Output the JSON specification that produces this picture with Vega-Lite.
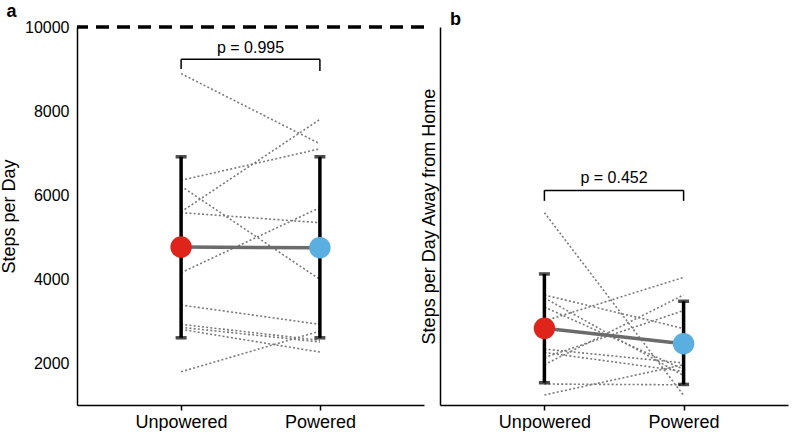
{
  "$schema": "https://vega.github.io/schema/vega-lite/v6.json",
  "padding": {"left": 0, "top": 3, "right": 2, "bottom": 0},
  "spacing": -6,
  "config": {
    "view": {"stroke": null},
    "font": "Liberation Sans",
    "axis": {"grid": false, "domainColor": "black", "domainWidth": 1.5, "tickColor": "black", "labelColor": "black", "titleColor": "black", "titleFontWeight": "normal"}
  },
  "datasets": {
    "pairsA": [
      {"id": 1, "cond": "Unpowered", "steps": 8890}, {"id": 1, "cond": "Powered", "steps": 7220},
      {"id": 2, "cond": "Unpowered", "steps": 6350}, {"id": 2, "cond": "Powered", "steps": 7100},
      {"id": 3, "cond": "Unpowered", "steps": 6210}, {"id": 3, "cond": "Powered", "steps": 3990},
      {"id": 4, "cond": "Unpowered", "steps": 5600}, {"id": 4, "cond": "Powered", "steps": 7800},
      {"id": 5, "cond": "Unpowered", "steps": 5580}, {"id": 5, "cond": "Powered", "steps": 5340},
      {"id": 6, "cond": "Unpowered", "steps": 4150}, {"id": 6, "cond": "Powered", "steps": 5700},
      {"id": 7, "cond": "Unpowered", "steps": 3380}, {"id": 7, "cond": "Powered", "steps": 2920},
      {"id": 8, "cond": "Unpowered", "steps": 2920}, {"id": 8, "cond": "Powered", "steps": 2540},
      {"id": 9, "cond": "Unpowered", "steps": 2850}, {"id": 9, "cond": "Powered", "steps": 2500},
      {"id": 10, "cond": "Unpowered", "steps": 2800}, {"id": 10, "cond": "Powered", "steps": 2260},
      {"id": 11, "cond": "Unpowered", "steps": 1790}, {"id": 11, "cond": "Powered", "steps": 2760}
    ],
    "meansA": [
      {"cond": "Unpowered", "mean": 4760, "lo": 2600, "hi": 6910},
      {"cond": "Powered", "mean": 4745, "lo": 2600, "hi": 6910}
    ],
    "bracketA": [
      {"cond": "Unpowered", "c2": "Powered", "top": 9230, "bot": 9000},
      {"cond": "Powered", "c2": "Powered", "top": 9230, "bot": 8950}
    ],
    "pairsB": [
      {"id": 1, "cond": "Unpowered", "steps": 5580}, {"id": 1, "cond": "Powered", "steps": 1230},
      {"id": 2, "cond": "Unpowered", "steps": 3620}, {"id": 2, "cond": "Powered", "steps": 2820},
      {"id": 3, "cond": "Unpowered", "steps": 3550}, {"id": 3, "cond": "Powered", "steps": 1700},
      {"id": 4, "cond": "Unpowered", "steps": 3330}, {"id": 4, "cond": "Powered", "steps": 1850},
      {"id": 5, "cond": "Unpowered", "steps": 3000}, {"id": 5, "cond": "Powered", "steps": 4040},
      {"id": 6, "cond": "Unpowered", "steps": 2330}, {"id": 6, "cond": "Powered", "steps": 2000},
      {"id": 7, "cond": "Unpowered", "steps": 2250}, {"id": 7, "cond": "Powered", "steps": 1800},
      {"id": 8, "cond": "Unpowered", "steps": 2130}, {"id": 8, "cond": "Powered", "steps": 3250},
      {"id": 9, "cond": "Unpowered", "steps": 1960}, {"id": 9, "cond": "Powered", "steps": 3620},
      {"id": 10, "cond": "Unpowered", "steps": 1500}, {"id": 10, "cond": "Powered", "steps": 1480},
      {"id": 11, "cond": "Unpowered", "steps": 1240}, {"id": 11, "cond": "Powered", "steps": 1960}
    ],
    "meansB": [
      {"cond": "Unpowered", "mean": 2826, "lo": 1530, "hi": 4120},
      {"cond": "Powered", "mean": 2460, "lo": 1490, "hi": 3470}
    ],
    "bracketB": [
      {"cond": "Unpowered", "c2": "Powered", "top": 6110, "bot": 5860},
      {"cond": "Powered", "c2": "Powered", "top": 6110, "bot": 5860}
    ]
  },
  "hconcat": [
    {
      "width": 347,
      "height": 378,
      "title": {"text": "a", "anchor": "start", "frame": "bounds", "fontSize": 18, "fontWeight": "bold", "offset": -2, "dx": 6},
      "layer": [
        {
          "data": {"name": "pairsA"},
          "mark": {"type": "line", "color": "#7a7a7a", "strokeWidth": 1.6, "strokeDash": [2, 2.2]},
          "encoding": {
            "x": {"field": "cond", "type": "nominal", "sort": null, "scale": {"type": "point", "domain": ["Unpowered", "Powered"], "padding": 0.75}, "axis": {"title": null, "labelAngle": 0, "labelFontSize": 18, "tickSize": 5, "tickWidth": 1.5, "labelPadding": 3}},
            "y": {"field": "steps", "type": "quantitative", "scale": {"domain": [1000, 10000], "nice": false, "zero": false}, "axis": {"values": [2000, 4000, 6000, 8000, 10000], "format": "d", "ticks": false, "labelPadding": 8, "labelFontSize": 16, "title": "Steps per Day", "titleFontSize": 18, "titlePadding": 6}},
            "detail": {"field": "id", "type": "nominal"}
          }
        },
        {
          "data": {"values": [{"ref": 10000}]},
          "mark": {"type": "rule", "color": "black", "strokeWidth": 3.5, "strokeDash": [13, 8]},
          "encoding": {"y": {"field": "ref", "type": "quantitative"}}
        },
        {
          "data": {"name": "meansA"},
          "mark": {"type": "rule", "color": "black", "strokeWidth": 3.5},
          "encoding": {
            "x": {"field": "cond", "type": "nominal", "sort": null},
            "y": {"field": "lo", "type": "quantitative"},
            "y2": {"field": "hi"}
          }
        },
        {
          "data": {"name": "meansA"},
          "mark": {"type": "tick", "color": "black", "thickness": 3.5, "size": 11},
          "encoding": {
            "x": {"field": "cond", "type": "nominal", "sort": null},
            "y": {"field": "lo", "type": "quantitative"}
          }
        },
        {
          "data": {"name": "meansA"},
          "mark": {"type": "tick", "color": "black", "thickness": 3.5, "size": 11},
          "encoding": {
            "x": {"field": "cond", "type": "nominal", "sort": null},
            "y": {"field": "hi", "type": "quantitative"}
          }
        },
        {
          "data": {"name": "meansA"},
          "mark": {"type": "line", "color": "#6b6b6b", "strokeWidth": 3.5},
          "encoding": {
            "x": {"field": "cond", "type": "nominal", "sort": null},
            "y": {"field": "mean", "type": "quantitative"}
          }
        },
        {
          "data": {"name": "meansA"},
          "mark": {"type": "circle", "size": 460, "opacity": 1},
          "encoding": {
            "x": {"field": "cond", "type": "nominal", "sort": null},
            "y": {"field": "mean", "type": "quantitative"},
            "color": {"field": "cond", "type": "nominal", "scale": {"domain": ["Unpowered", "Powered"], "range": ["#df251b", "#5aafe0"]}, "legend": null}
          }
        },
        {
          "data": {"name": "bracketA"},
          "mark": {"type": "rule", "color": "black", "strokeWidth": 1.5},
          "encoding": {
            "x": {"field": "cond", "type": "nominal", "sort": null},
            "y": {"field": "top", "type": "quantitative"},
            "y2": {"field": "bot"}
          }
        },
        {
          "data": {"values": [{"cond": "Unpowered", "c2": "Powered", "top": 9230}]},
          "mark": {"type": "rule", "color": "black", "strokeWidth": 1.5},
          "encoding": {
            "x": {"field": "cond", "type": "nominal", "sort": null},
            "x2": {"field": "c2"},
            "y": {"field": "top", "type": "quantitative"}
          }
        },
        {
          "data": {"values": [{"label": "p = 0.995", "ty": 9510}]},
          "mark": {"type": "text", "fontSize": 16, "color": "black", "baseline": "middle", "align": "center"},
          "encoding": {
            "y": {"field": "ty", "type": "quantitative"},
            "text": {"field": "label"}
          }
        }
      ]
    },
    {
      "width": 348,
      "height": 378,
      "title": {"text": "b", "anchor": "start", "frame": "group", "fontSize": 18, "fontWeight": "bold", "offset": -2, "dx": 10},
      "layer": [
        {
          "data": {"name": "pairsB"},
          "mark": {"type": "line", "color": "#7a7a7a", "strokeWidth": 1.6, "strokeDash": [2, 2.2]},
          "encoding": {
            "x": {"field": "cond", "type": "nominal", "sort": null, "scale": {"type": "point", "domain": ["Unpowered", "Powered"], "padding": 0.75}, "axis": {"title": null, "labelAngle": 0, "labelFontSize": 18, "tickSize": 5, "tickWidth": 1.5, "labelPadding": 3}},
            "y": {"field": "steps", "type": "quantitative", "scale": {"domain": [1000, 10000], "nice": false, "zero": false}, "axis": {"labels": false, "ticks": false, "title": "Steps per Day Away from Home", "titleFontSize": 18, "titlePadding": 2}},
            "detail": {"field": "id", "type": "nominal"}
          }
        },
        {
          "data": {"name": "meansB"},
          "mark": {"type": "rule", "color": "black", "strokeWidth": 3.5},
          "encoding": {
            "x": {"field": "cond", "type": "nominal", "sort": null},
            "y": {"field": "lo", "type": "quantitative"},
            "y2": {"field": "hi"}
          }
        },
        {
          "data": {"name": "meansB"},
          "mark": {"type": "tick", "color": "black", "thickness": 3.5, "size": 11},
          "encoding": {
            "x": {"field": "cond", "type": "nominal", "sort": null},
            "y": {"field": "lo", "type": "quantitative"}
          }
        },
        {
          "data": {"name": "meansB"},
          "mark": {"type": "tick", "color": "black", "thickness": 3.5, "size": 11},
          "encoding": {
            "x": {"field": "cond", "type": "nominal", "sort": null},
            "y": {"field": "hi", "type": "quantitative"}
          }
        },
        {
          "data": {"name": "meansB"},
          "mark": {"type": "line", "color": "#6b6b6b", "strokeWidth": 3.5},
          "encoding": {
            "x": {"field": "cond", "type": "nominal", "sort": null},
            "y": {"field": "mean", "type": "quantitative"}
          }
        },
        {
          "data": {"name": "meansB"},
          "mark": {"type": "circle", "size": 460, "opacity": 1},
          "encoding": {
            "x": {"field": "cond", "type": "nominal", "sort": null},
            "y": {"field": "mean", "type": "quantitative"},
            "color": {"field": "cond", "type": "nominal", "scale": {"domain": ["Unpowered", "Powered"], "range": ["#df251b", "#5aafe0"]}, "legend": null}
          }
        },
        {
          "data": {"name": "bracketB"},
          "mark": {"type": "rule", "color": "black", "strokeWidth": 1.5},
          "encoding": {
            "x": {"field": "cond", "type": "nominal", "sort": null},
            "y": {"field": "top", "type": "quantitative"},
            "y2": {"field": "bot"}
          }
        },
        {
          "data": {"values": [{"cond": "Unpowered", "c2": "Powered", "top": 6110}]},
          "mark": {"type": "rule", "color": "black", "strokeWidth": 1.5},
          "encoding": {
            "x": {"field": "cond", "type": "nominal", "sort": null},
            "x2": {"field": "c2"},
            "y": {"field": "top", "type": "quantitative"}
          }
        },
        {
          "data": {"values": [{"label": "p = 0.452", "ty": 6410}]},
          "mark": {"type": "text", "fontSize": 16, "color": "black", "baseline": "middle", "align": "center"},
          "encoding": {
            "y": {"field": "ty", "type": "quantitative"},
            "text": {"field": "label"}
          }
        }
      ]
    }
  ]
}
